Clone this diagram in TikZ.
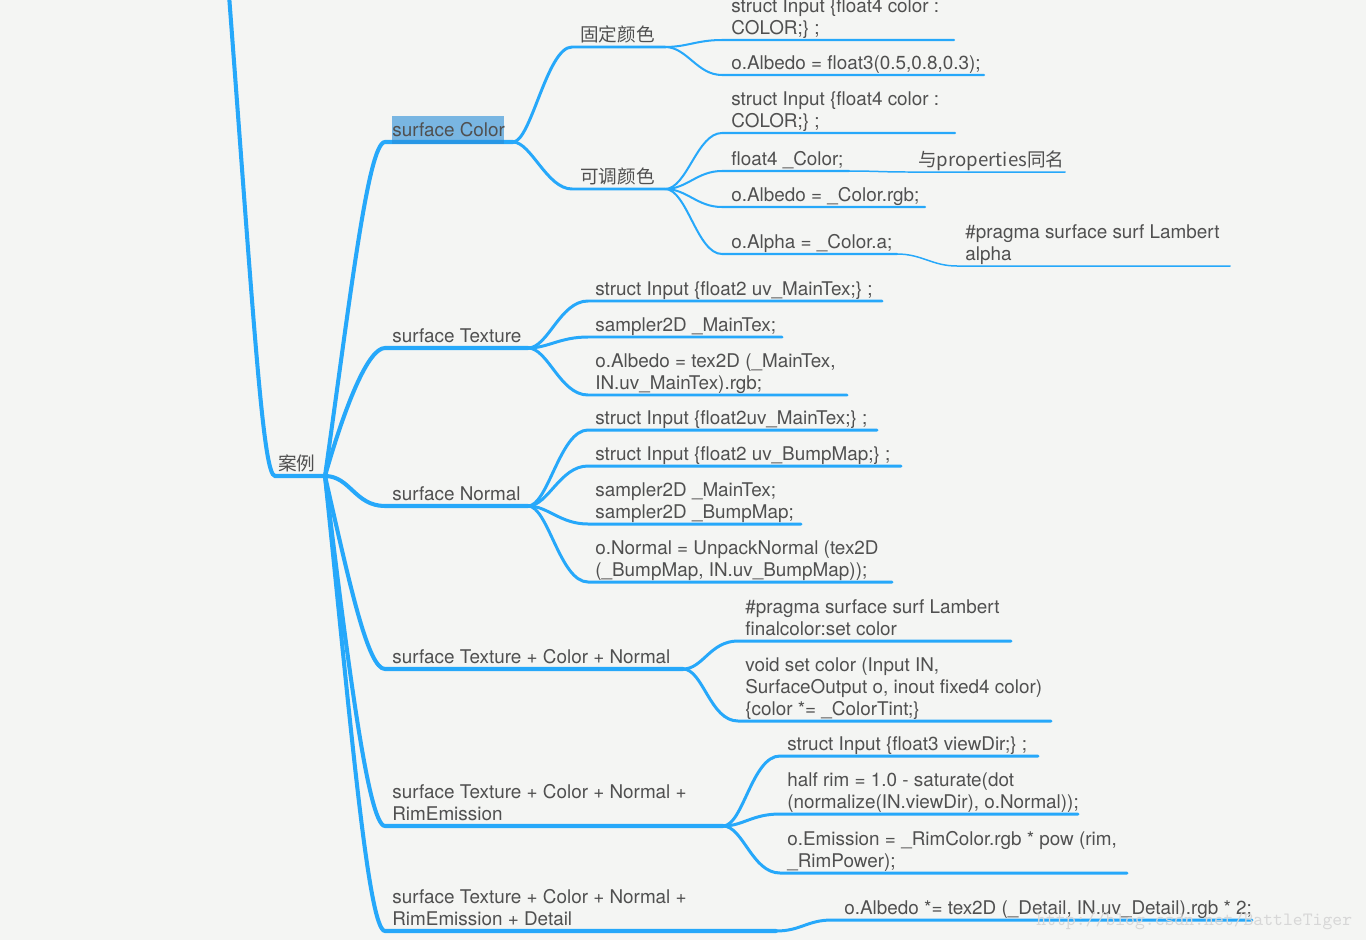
\documentclass[tikz,border=0pt]{standalone}
\usepackage{fontspec}
\setmainfont{TeX Gyre Heros}
\newfontfamily\cjk{Noto Sans CJK SC}
\usetikzlibrary{calc}

\definecolor{mapBlue}{RGB}{38,168,250}
\definecolor{mapText}{RGB}{80,80,80}
\definecolor{mapBack}{RGB}{244,245,243}
\definecolor{mapMark}{RGB}{40,140,215}
\definecolor{mapWater}{RGB}{215,215,215}

\begin{document}
\begin{tikzpicture}[x=0.02cm,y=-0.02cm,
    topic/.style={anchor=south west,inner sep=0pt,text depth=2.3pt,align=left,
      text=mapText,font=\fontsize{10.75}{12.5}\selectfont},
    cjkTopic/.style={topic,font=\cjk\fontsize{10.6}{12.5}\selectfont},
    rootLine/.style={draw=mapBlue,line width=2.3pt,line cap=round},
    subLine/.style={draw=mapBlue,line width=1.7pt,line cap=round},
    leafLine/.style={draw=mapBlue,line width=1.15pt,line cap=round},
    tipLine/.style={draw=mapBlue,line width=0.85pt,line cap=round}]
  \path[use as bounding box,fill=mapBack] (0,0) rectangle (1366,940);
  %points
  \coordinate (rootIn) at (229,-5);
  \coordinate (rootStart) at (275,476);
  \coordinate (rootEnd) at (325,476);
  \coordinate (colorStart) at (385,142);
  \coordinate (colorEnd) at (513,142);
  \coordinate (textureStart) at (385,348);
  \coordinate (textureEnd) at (528,348);
  \coordinate (normalStart) at (385,506);
  \coordinate (normalEnd) at (528,506);
  \coordinate (tcnStart) at (385,669);
  \coordinate (tcnEnd) at (683,669);
  \coordinate (tcnrStart) at (385,826);
  \coordinate (tcnrEnd) at (723,826);
  \coordinate (tcnrdStart) at (385,931);
  \coordinate (tcnrdEnd) at (776,931);
  \coordinate (fixedStart) at (572,47);
  \coordinate (fixedEnd) at (665,47);
  \coordinate (tuneStart) at (572,189);
  \coordinate (tuneEnd) at (665,189);
  % root and first level
  \draw[rootLine] (rootIn) .. controls +(25,330) and +(-12,0) .. (rootStart) -- (rootEnd);
  \draw[rootLine] (rootEnd) .. controls +(25,-176) and +(-17,0) .. (colorStart) -- (colorEnd);
  \draw[rootLine] (rootEnd) .. controls +(20,-70) and +(-17,0) .. (textureStart) -- (textureEnd);
  \draw[rootLine] (rootEnd) .. controls +(25,0) and +(-30,0) .. (normalStart) -- (normalEnd);
  \draw[rootLine] (rootEnd) .. controls +(25,110) and +(-17,0) .. (tcnStart) -- (tcnEnd);
  \draw[rootLine] (rootEnd) .. controls +(22,180) and +(-17,0) .. (tcnrStart) -- (tcnrEnd);
  \draw[rootLine] (rootEnd) .. controls +(25,240) and +(-17,0) .. (tcnrdStart) -- (tcnrdEnd);
  % surface Color
  \draw[subLine] (colorEnd) .. controls +(18,0) and +(-25,0) .. (fixedStart) -- (fixedEnd);
  \draw[subLine] (colorEnd) .. controls +(18,0) and +(-25,0) .. (tuneStart) -- (tuneEnd);
  \coordinate (fixedA) at (722,40);   \coordinate (fixedAEnd) at (954,40);
  \coordinate (fixedB) at (722,75);   \coordinate (fixedBEnd) at (984,75);
  \coordinate (tuneA) at (722,133);   \coordinate (tuneAEnd) at (955,133);
  \coordinate (tuneB) at (722,171);   \coordinate (tuneBEnd) at (849,171);
  \coordinate (tuneC) at (722,207);   \coordinate (tuneCEnd) at (925,207);
  \coordinate (tuneD) at (722,254);   \coordinate (tuneDEnd) at (897,254);
  \coordinate (sameName) at (908,172); \coordinate (sameNameEnd) at (1065,172);
  \coordinate (alphaTip) at (957,266); \coordinate (alphaTipEnd) at (1230,266);
  \foreach \a/\b in {fixedA/fixedAEnd,fixedB/fixedBEnd}
    \draw[leafLine] (fixedEnd) .. controls +(22,0) and +(-25,0) .. (\a) -- (\b);
  \foreach \a/\b in {tuneA/tuneAEnd,tuneB/tuneBEnd,tuneC/tuneCEnd,tuneD/tuneDEnd}
    \draw[leafLine] (tuneEnd) .. controls +(22,0) and +(-25,0) .. (\a) -- (\b);
  \draw[tipLine] (tuneBEnd) .. controls +(25,0) and +(-25,0) .. (sameName) -- (sameNameEnd);
  \draw[tipLine] (tuneDEnd) .. controls +(25,0) and +(-25,0) .. (alphaTip) -- (alphaTipEnd);
  % surface Texture and surface Normal
  \coordinate (texA) at (588,301);  \coordinate (texAEnd) at (882,301);
  \coordinate (texB) at (588,337);  \coordinate (texBEnd) at (782,337);
  \coordinate (texC) at (588,395);  \coordinate (texCEnd) at (847,395);
  \coordinate (norA) at (588,430);  \coordinate (norAEnd) at (877,430);
  \coordinate (norB) at (588,466);  \coordinate (norBEnd) at (901,466);
  \coordinate (norC) at (588,524);  \coordinate (norCEnd) at (801,524);
  \coordinate (norD) at (588,582);  \coordinate (norDEnd) at (892,582);
  \foreach \a/\b in {texA/texAEnd,texB/texBEnd,texC/texCEnd}
    \draw[subLine] (textureEnd) .. controls +(20,0) and +(-28,0) .. (\a) -- (\b);
  \foreach \a/\b in {norA/norAEnd,norB/norBEnd,norC/norCEnd,norD/norDEnd}
    \draw[subLine] (normalEnd) .. controls +(20,0) and +(-28,0) .. (\a) -- (\b);
  % combined ones
  \coordinate (tcnA) at (738,641);   \coordinate (tcnAEnd) at (1011,641);
  \coordinate (tcnB) at (738,721);   \coordinate (tcnBEnd) at (1051,721);
  \coordinate (tcnrA) at (780,756);  \coordinate (tcnrAEnd) at (1038,756);
  \coordinate (tcnrB) at (780,814);  \coordinate (tcnrBEnd) at (1078,814);
  \coordinate (tcnrC) at (780,873);  \coordinate (tcnrCEnd) at (1127,873);
  \coordinate (tcnrdA) at (832,920); \coordinate (tcnrdAEnd) at (1252,920);
  \foreach \a/\b in {tcnA/tcnAEnd,tcnB/tcnBEnd}
    \draw[subLine] (tcnEnd) .. controls +(20,0) and +(-28,0) .. (\a) -- (\b);
  \foreach \a/\b in {tcnrA/tcnrAEnd,tcnrB/tcnrBEnd,tcnrC/tcnrCEnd}
    \draw[subLine] (tcnrEnd) .. controls +(20,0) and +(-28,0) .. (\a) -- (\b);
  \draw[subLine] (tcnrdEnd) .. controls +(25,0) and +(-25,0) .. (tcnrdA) -- (tcnrdAEnd);
  %labels
  \fill[mapMark,fill opacity=0.6] (392,116) rectangle (504,144);
  \node[cjkTopic] (rootText) at (278,475) {案例};
  \node[topic] (colorText) at (392,141) {surface Color};
  \node[topic] (textureText) at (392,347) {surface Texture};
  \node[topic] (normalText) at (392,505) {surface Normal};
  \node[topic] (tcnText) at (392,668) {surface Texture + Color + Normal};
  \node[topic] (tcnrText) at (392,825) {surface Texture + Color + Normal +\\RimEmission};
  \node[topic] (tcnrdText) at (392,930) {surface Texture + Color + Normal +\\RimEmission + Detail};
  \node[cjkTopic] (fixedText) at (580,46) {固定颜色};
  \node[cjkTopic] (tuneText) at (580,188) {可调颜色};
  \node[topic] (fixedAText) at (731,39) {struct Input \{float4 color :\\COLOR;\} ;};
  \node[topic] (fixedBText) at (731,74) {o.Albedo = float3(0.5,0.8,0.3);};
  \node[topic] (tuneAText) at (731,132) {struct Input \{float4 color :\\COLOR;\} ;};
  \node[topic] (tuneBText) at (731,170) {float4 \_Color;};
  \node[cjkTopic] (sameNameText) at (918,171) {与properties同名};
  \node[topic] (tuneCText) at (731,206) {o.Albedo = \_Color.rgb;};
  \node[topic] (tuneDText) at (731,253) {o.Alpha = \_Color.a;};
  \node[topic] (alphaTipText) at (965,265) {\#pragma surface surf Lambert\\alpha};
  \node[topic] (texAText) at (595,300) {struct Input \{float2 uv\_MainTex;\} ;};
  \node[topic] (texBText) at (595,336) {sampler2D \_MainTex;};
  \node[topic] (texCText) at (595,394) {o.Albedo = tex2D (\_MainTex,\\IN.uv\_MainTex).rgb;};
  \node[topic] (norAText) at (595,429) {struct Input \{float2uv\_MainTex;\} ;};
  \node[topic] (norBText) at (595,465) {struct Input \{float2 uv\_BumpMap;\} ;};
  \node[topic] (norCText) at (595,523) {sampler2D \_MainTex;\\sampler2D \_BumpMap;};
  \node[topic] (norDText) at (595,581) {o.Normal = UnpackNormal (tex2D\\(\_BumpMap, IN.uv\_BumpMap));};
  \node[topic] (tcnAText) at (745,640) {\#pragma surface surf Lambert\\finalcolor:set color};
  \node[topic] (tcnBText) at (745,720) {void set color (Input IN,\\SurfaceOutput o, inout fixed4 color)\\\{color *= \_ColorTint;\}};
  \node[topic] (tcnrAText) at (787,755) {struct Input \{float3 viewDir;\} ;};
  \node[topic] (tcnrBText) at (787,813) {half rim = 1.0 - saturate(dot\\(normalize(IN.viewDir), o.Normal));};
  \node[topic] (tcnrCText) at (787,872) {o.Emission = \_RimColor.rgb * pow (rim,\\\_RimPower);};
  \node[topic] (tcnrdAText) at (844,919) {o.Albedo *= tex2D (\_Detail, IN.uv\_Detail).rgb * 2;};
  \node[anchor=west,inner sep=0pt,text=mapWater,font=\ttfamily\fontsize{10.7}{12}\selectfont]
    (waterText) at (1036,921) {http://blog.csdn.net/BattleTiger};
\end{tikzpicture}
\end{document}
